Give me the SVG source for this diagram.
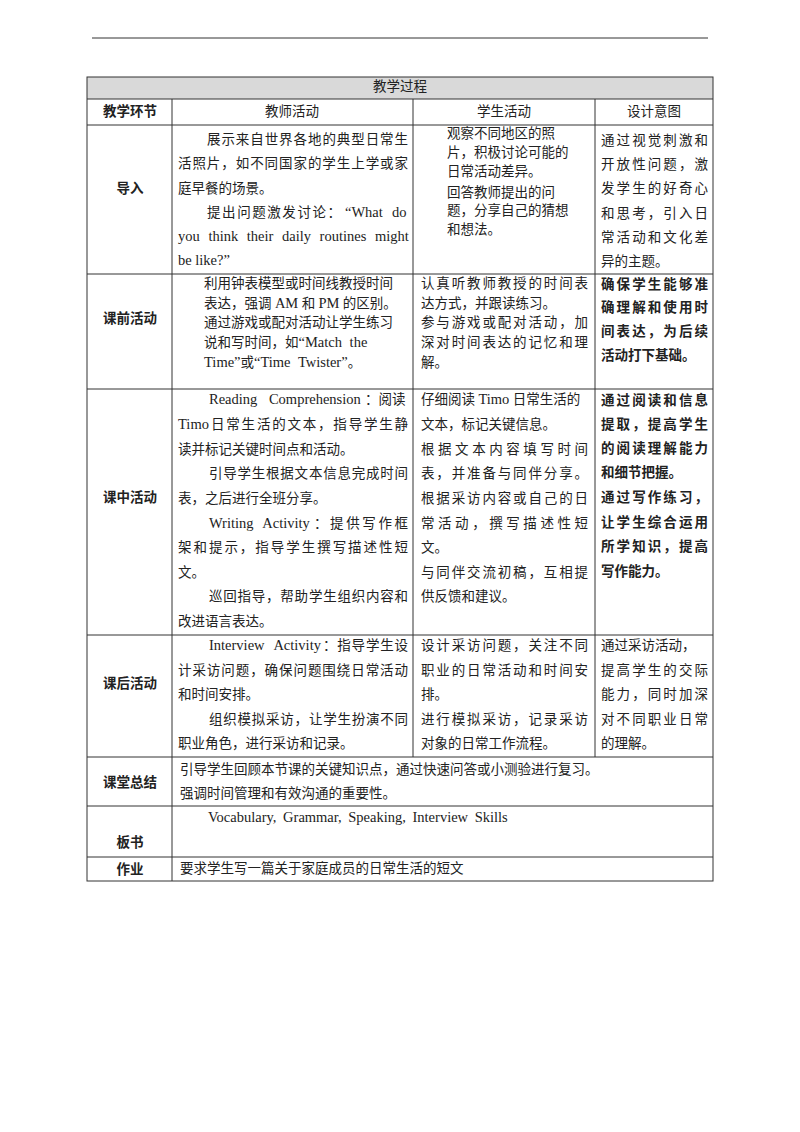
<svg xmlns="http://www.w3.org/2000/svg" width="800" height="1132" viewBox="0 0 800 1132">
<style>
text{font-family:"Liberation Serif","Noto Sans CJK SC",serif;font-size:13.5px;fill:#222}
.e{font-size:14.5px}
.b{font-family:"Noto Sans CJK SC",sans-serif;font-weight:bold;font-size:13.5px}
.c{text-anchor:middle}
.l{stroke:#333;stroke-width:1;fill:none}
</style>
<rect width="800" height="1132" fill="#fff"/>
<line class="l" x1="92" y1="38" x2="708" y2="38"/>
<g id="table">
<rect x="87" y="77" width="626" height="22" fill="#d9d9d9"/>
<rect class="l" x="87" y="77" width="626" height="804"/>
<path class="l" d="M87 99H713M87 125H713M87 274H713M87 389H713M87 635H713M87 757H713M87 806H713M87 857H713M172 99V881M413 99V757M595 99V757"/>
</g>
<g id="header">
<text class="c" x="400" y="91">教学过程</text>
<text class="b c" x="130" y="116">教学环节</text>
<text class="c" x="292" y="116">教师活动</text>
<text class="c" x="504" y="116">学生活动</text>
<text class="c" x="654" y="116">设计意图</text>
</g>
<g id="row-daoru">
<text class="b c" x="130" y="193">导入</text>
<text x="207" y="144" textLength="201" lengthAdjust="spacing">展示来自世界各地的典型日常生</text>
<text x="178" y="168" textLength="230" lengthAdjust="spacing">活照片，如不同国家的学生上学或家</text>
<text x="178" y="193">庭早餐的场景。</text>
<text x="207" y="217"><tspan textLength="134" lengthAdjust="spacing">提出问题激发讨论：</tspan><tspan class="e" x="345">“What</tspan><tspan class="e" x="392">do</tspan></text>
<text class="e" x="178" y="241" word-spacing="5">you think their daily routines might</text>
<text class="e" x="178" y="265">be like?”</text>
<text x="447" y="138">观察不同地区的照</text>
<text x="447" y="157">片，积极讨论可能的</text>
<text x="447" y="176">日常活动差异。</text>
<text x="447" y="197">回答教师提出的问</text>
<text x="447" y="215">题，分享自己的猜想</text>
<text x="447" y="234">和想法。</text>
<text x="601" y="145" textLength="107" lengthAdjust="spacing">通过视觉刺激和</text>
<text x="601" y="169" textLength="107" lengthAdjust="spacing">开放性问题，激</text>
<text x="601" y="193" textLength="107" lengthAdjust="spacing">发学生的好奇心</text>
<text x="601" y="218" textLength="107" lengthAdjust="spacing">和思考，引入日</text>
<text x="601" y="242" textLength="107" lengthAdjust="spacing">常活动和文化差</text>
<text x="601" y="266">异的主题。</text>
</g>
<g id="row-kegian">
<text class="b c" x="130" y="323">课前活动</text>
<text x="204" y="288">利用钟表模型或时间线教授时间</text>
<text x="204" y="308">表达，强调 <tspan class="e">AM</tspan> 和 <tspan class="e">PM</tspan> 的区别。</text>
<text x="204" y="327">通过游戏或配对活动让学生练习</text>
<text x="204" y="347">说和写时间，如<tspan class="e" word-spacing="4">“Match the</tspan></text>
<text x="204" y="367"><tspan class="e">Time”</tspan>或<tspan class="e" word-spacing="4">“Time Twister”</tspan>。</text>
<text x="421" y="288" textLength="167" lengthAdjust="spacing">认真听教师教授的时间表</text>
<text x="421" y="308">达方式，并跟读练习。</text>
<text x="421" y="327" textLength="167" lengthAdjust="spacing">参与游戏或配对活动，加</text>
<text x="421" y="347" textLength="167" lengthAdjust="spacing">深对时间表达的记忆和理</text>
<text x="421" y="367">解。</text>
<text class="b" x="601" y="289" textLength="107" lengthAdjust="spacing">确保学生能够准</text>
<text class="b" x="601" y="312" textLength="107" lengthAdjust="spacing">确理解和使用时</text>
<text class="b" x="601" y="336" textLength="107" lengthAdjust="spacing">间表达，为后续</text>
<text class="b" x="601" y="360">活动打下基础。</text>
</g>
<g id="row-kezhong">
<text class="b c" x="130" y="502">课中活动</text>
<text x="209" y="404"><tspan class="e" word-spacing="8">Reading Comprehension</tspan><tspan x="365">：阅读</tspan></text>
<text x="178" y="429"><tspan class="e">Timo</tspan><tspan x="211" textLength="197" lengthAdjust="spacing">日常生活的文本，指导学生静</tspan></text>
<text x="178" y="454">读并标记关键时间点和活动。</text>
<text x="209" y="478" textLength="199" lengthAdjust="spacing">引导学生根据文本信息完成时间</text>
<text x="178" y="503">表，之后进行全班分享。</text>
<text x="209" y="528"><tspan class="e" word-spacing="6">Writing Activity</tspan><tspan x="314" textLength="94" lengthAdjust="spacing">：提供写作框</tspan></text>
<text x="178" y="552" textLength="230" lengthAdjust="spacing">架和提示，指导学生撰写描述性短</text>
<text x="178" y="577">文。</text>
<text x="209" y="601" textLength="199" lengthAdjust="spacing">巡回指导，帮助学生组织内容和</text>
<text x="178" y="626">改进语言表达。</text>
<text x="421" y="404">仔细阅读 <tspan class="e">Timo</tspan> 日常生活的</text>
<text x="421" y="429">文本，标记关键信息。</text>
<text x="421" y="454" textLength="167" lengthAdjust="spacing">根据文本内容填写时间</text>
<text x="421" y="478" textLength="167" lengthAdjust="spacing">表，并准备与同伴分享。</text>
<text x="421" y="503" textLength="167" lengthAdjust="spacing">根据采访内容或自己的日</text>
<text x="421" y="528" textLength="167" lengthAdjust="spacing">常活动，撰写描述性短</text>
<text x="421" y="552">文。</text>
<text x="421" y="577" textLength="167" lengthAdjust="spacing">与同伴交流初稿，互相提</text>
<text x="421" y="601">供反馈和建议。</text>
<text class="b" x="601" y="405" textLength="107" lengthAdjust="spacing">通过阅读和信息</text>
<text class="b" x="601" y="429" textLength="107" lengthAdjust="spacing">提取，提高学生</text>
<text class="b" x="601" y="453" textLength="107" lengthAdjust="spacing">的阅读理解能力</text>
<text class="b" x="601" y="477">和细节把握。</text>
<text class="b" x="601" y="502" textLength="107" lengthAdjust="spacing">通过写作练习，</text>
<text class="b" x="601" y="527" textLength="107" lengthAdjust="spacing">让学生综合运用</text>
<text class="b" x="601" y="551" textLength="107" lengthAdjust="spacing">所学知识，提高</text>
<text class="b" x="601" y="576">写作能力。</text>
</g>
<g id="row-kehou">
<text class="b c" x="130" y="688">课后活动</text>
<text x="209" y="650"><tspan class="e" word-spacing="6">Interview Activity</tspan><tspan x="323" textLength="85" lengthAdjust="spacing">：指导学生设</tspan></text>
<text x="178" y="675" textLength="230" lengthAdjust="spacing">计采访问题，确保问题围绕日常活动</text>
<text x="178" y="699">和时间安排。</text>
<text x="209" y="724" textLength="199" lengthAdjust="spacing">组织模拟采访，让学生扮演不同</text>
<text x="178" y="748">职业角色，进行采访和记录。</text>
<text x="421" y="650" textLength="167" lengthAdjust="spacing">设计采访问题，关注不同</text>
<text x="421" y="675" textLength="167" lengthAdjust="spacing">职业的日常活动和时间安</text>
<text x="421" y="699">排。</text>
<text x="421" y="724" textLength="167" lengthAdjust="spacing">进行模拟采访，记录采访</text>
<text x="421" y="748">对象的日常工作流程。</text>
<text x="601" y="650">通过采访活动，</text>
<text x="601" y="675" textLength="107" lengthAdjust="spacing">提高学生的交际</text>
<text x="601" y="699" textLength="107" lengthAdjust="spacing">能力，同时加深</text>
<text x="601" y="724" textLength="107" lengthAdjust="spacing">对不同职业日常</text>
<text x="601" y="748">的理解。</text>
</g>
<g id="row-summary">
<text class="b c" x="130" y="787">课堂总结</text>
<text x="180" y="774">引导学生回顾本节课的关键知识点，通过快速问答或小测验进行复习。</text>
<text x="180" y="798">强调时间管理和有效沟通的重要性。</text>
</g>
<g id="row-board">
<text class="b c" x="130" y="847">板书</text>
<text class="e" x="208" y="822" word-spacing="3">Vocabulary, Grammar, Speaking, Interview Skills</text>
</g>
<g id="row-homework">
<text class="b c" x="130" y="874">作业</text>
<text x="180" y="873">要求学生写一篇关于家庭成员的日常生活的短文</text>
</g>
</svg>
